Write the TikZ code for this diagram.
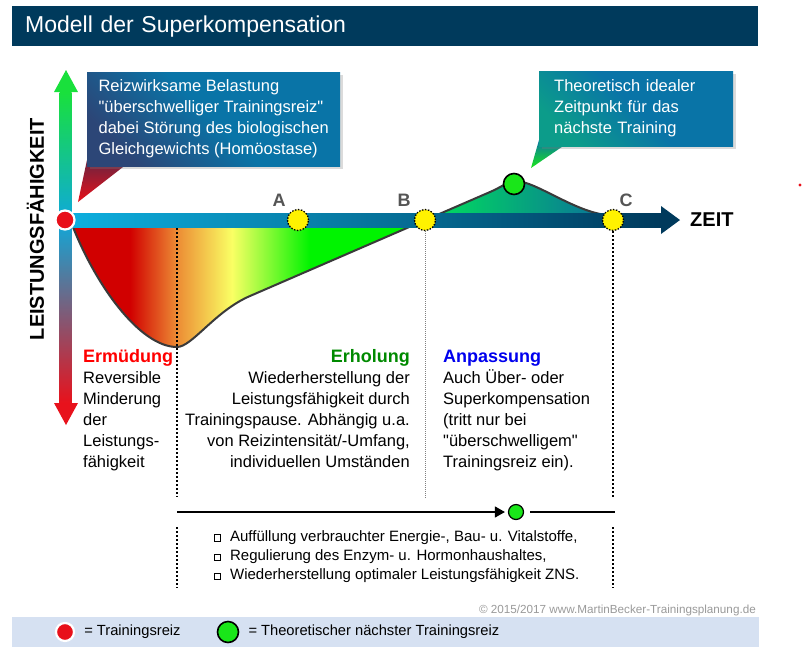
\documentclass[tikz,border=0pt]{standalone}
\usepackage{fontspec}
\setmainfont{Liberation Sans}[Ligatures=TeXOff]
\usetikzlibrary{positioning, arrows.meta, shadows}

\definecolor{titelblau}{HTML}{003A5C}
\definecolor{kastenblau}{HTML}{0974A7}
\definecolor{kastenrot}{HTML}{2C4677}
\definecolor{kastengruen}{HTML}{0C9C8A}
\definecolor{zeigerdunkel}{HTML}{6A2440}
\definecolor{reizrot}{HTML}{E8101A}
\definecolor{punktgruen}{HTML}{19E619}
\definecolor{achsgruen}{HTML}{19E03C}
\definecolor{achscyan}{HTML}{0FA9D9}
\definecolor{achsrot}{HTML}{E8121C}
\definecolor{bandhell}{HTML}{0DB0E0}
\definecolor{rotmitte}{HTML}{D10000}
\definecolor{orangeton}{HTML}{EC8C34}
\definecolor{gelbhell}{HTML}{FAFF64}
\definecolor{gruenhell}{HTML}{00F400}
\definecolor{lobgruen}{HTML}{00E35A}
\definecolor{lobcyan}{HTML}{10BEDD}
\definecolor{lobblau}{HTML}{0B6E9C}
\definecolor{kurvengrau}{HTML}{3A3A3A}
\definecolor{markengrau}{HTML}{555555}
\definecolor{ermrot}{HTML}{FF0000}
\definecolor{erhgruen}{HTML}{008A00}
\definecolor{anpblau}{HTML}{0000EE}
\definecolor{copygrau}{HTML}{9A9A9A}
\definecolor{legblau}{HTML}{D6E1F2}

\newcommand{\kopf}{\fontsize{18}{21}\selectfont\bfseries}
\newcommand{\kaestchen}{\raisebox{1pt}{\setlength{\fboxsep}{0pt}\setlength{\fboxrule}{0.7pt}\fbox{\rule{0pt}{5.5pt}\rule{5.5pt}{0pt}}}}

\begin{document}
\begin{tikzpicture}[x=1pt, y=-1pt, font=\fontsize{16.5}{21}\selectfont,
  >={Triangle[length=10pt, width=11pt]},
  titel/.style={anchor=north west, fill=titelblau, text=white, minimum width=746pt, minimum height=40pt, text width=720pt, inner xsep=13pt, inner ysep=0pt, align=left, font=\fontsize{23}{28}\selectfont},
  kasten/.style={anchor=north west, text=white, inner ysep=0pt, align=left, drop shadow={opacity=0.28, shadow xshift=2.5pt, shadow yshift=-2.5pt}},
  punkt/.style={circle, inner sep=0pt, minimum size=19pt},
  rotpunkt/.style={punkt, fill=reizrot, draw=white, line width=2.2pt},
  gelbpunkt/.style={punkt, minimum size=21pt, fill=yellow, draw=black, line width=1.3pt, dash pattern=on 1.5pt off 1.5pt},
  gruenpunkt/.style={punkt, minimum size=21pt, fill=punktgruen, draw=black, line width=1.6pt},
  marke/.style={inner sep=0pt, text=markengrau, font=\fontsize{18}{20}\selectfont\bfseries},
  achsname/.style={inner sep=0pt, font=\fontsize{20}{24}\selectfont\bfseries},
  spalte/.style={inner sep=0pt, anchor=north west, align=left},
  trenner/.style={line width=2pt, dash pattern=on 2pt off 2pt},
  feintrenner/.style={gray, line width=0.8pt, dash pattern=on 1pt off 1pt},
  kurve/.style={draw=kurvengrau, line width=2pt}]

  \useasboundingbox (0,0) rectangle (803,657);
  \fill[white] (0,0) rectangle (803,657);

  \node[titel] (titel) at (12,6) {Modell der Superkompensation};

  % Kurve mit Farbverlauf
  \begin{scope}
    \clip (71,222) .. controls (95,285) and (140,347) .. (177,347) .. controls (192,347) and (215,311) .. (250,296) -- (490,192) .. controls (503,186.4) and (508,181) .. (516,181) .. controls (535,181) and (575,212) .. (607,215) -- cycle;
    \fill[rotmitte] (60,218) rectangle (130,360);
    \shade[left color=rotmitte, right color=orangeton] (130,218) rectangle (177,360);
    \shade[left color=orangeton, right color=gelbhell] (177,218) rectangle (232,360);
    \shade[left color=gelbhell, right color=gruenhell] (232,218) rectangle (310,360);
    \fill[gruenhell] (310,218) rectangle (430,360);
    \shade[left color=lobgruen, middle color=lobcyan, right color=lobblau] (425,175) rectangle (612,221);
  \end{scope}

  \draw[trenner] (177,228) -- (177,497);
  \draw[trenner] (177,527) -- (177,588);
  \draw[trenner] (613,231) -- (613,497);
  \draw[trenner] (613,527) -- (613,588);
  \draw[feintrenner] (425,231) -- (425,498);

  \draw[kurve] (71,222) .. controls (95,285) and (140,347) .. (177,347) .. controls (192,347) and (215,311) .. (250,296) -- (490,192) .. controls (503,186.4) and (508,181) .. (516,181) .. controls (535,181) and (575,212) .. (607,215);

  % Achsen
  \shade[top color=achsgruen, bottom color=achscyan] (59.5,92) rectangle (71.5,220);
  \shade[top color=achscyan, bottom color=achsrot] (59.5,220) rectangle (71.5,403);
  \fill[achsgruen] (54,92) -- (78,92) -- (66,70) -- cycle;
  \fill[achsrot] (54,403) -- (78,403) -- (66,425) -- cycle;
  \coordinate (zspitze) at (680,220);
  \shade[left color=bandhell, right color=titelblau] (65,213) rectangle (661,227);
  \fill[titelblau] (661,206) -- (zspitze) -- (661,234) -- cycle;
  \node[achsname, right=10pt of zspitze] (zeit) {ZEIT};
  \node[achsname, rotate=90] (leistung) at (35.5,229) {LEISTUNGSFÄHIGKEIT};

  % Hinweiskaesten
  \shade[top color=zeigerdunkel, bottom color=reizrot] (87,160) -- (132,160) -- (78,202) -- cycle;
  \node[kasten, minimum width=253pt, minimum height=94pt, top color=kastenblau, bottom color=kastenrot, middle color=kastenblau, shading angle=-45] (reizbox) at (87,72) {Reizwirksame Belastung\\"überschwelliger Trainingsreiz"\\dabei Störung des biologischen\\Gleichgewichts (Homöostase)};
  \shade[top color=kastenblau, bottom color=punktgruen] (539,140) -- (572,140) -- (531,168) -- cycle;
  \node[kasten, minimum width=194pt, minimum height=75pt, text width=164pt, inner xsep=15pt, top color=kastenblau, bottom color=kastengruen, middle color=kastenblau, shading angle=-45] (idealbox) at (539,71) {Theoretisch idealer\\Zeitpunkt für das\\nächste Training};

  % Punkte
  \node[rotpunkt] (reiz) at (65,220) {};
  \node[gelbpunkt] (pa) at (298,220) {};
  \node[gelbpunkt] (pb) at (425,220) {};
  \node[gelbpunkt] (pc) at (613,220) {};
  \node[gruenpunkt] (gipfel) at (514,184) {};
  \node[marke] (la) at (279,200) {A};
  \node[marke] (lb) at (404,200) {B};
  \node[marke] (lc) at (626,200) {C};

  % Phasen
  \node[spalte] (ermuedung) at (83,349.5) {{\kopf\color{ermrot}Ermüdung}\\Reversible\\Minderung\\der\\Leistungs-\\fähigkeit};
  \node[spalte, anchor=north east, align=right] (erholung) at (410,349.5) {{\kopf\color{erhgruen}Erholung}\\Wiederherstellung der\\Leistungsfähigkeit durch\\Trainingspause. Abhängig u.a.\\von Reizintensität/-Umfang,\\individuellen Umständen};
  \node[spalte] (anpassung) at (443,349.5) {{\kopf\color{anpblau}Anpassung}\\Auch Über- oder\\Superkompensation\\(tritt nur bei\\"überschwelligem"\\Trainingsreiz ein).};

  % Zeitpfeil und Liste
  \coordinate (pfstart) at (177,512);
  \coordinate (pfende) at (615,512);
  \node[gruenpunkt, minimum size=15pt, line width=1.2pt] (naechst) at (516,512) {};
  \draw[->, line width=1.3pt, shorten >=3pt] (pfstart) -- (naechst);
  \draw[line width=1.3pt, shorten <=6pt] (naechst) -- (pfende);
  \node[spalte, font=\fontsize{15}{19.2}\selectfont] (liste) at (214,530.5) {\kaestchen\hspace{9pt}Auffüllung verbrauchter Energie-, Bau- u. Vitalstoffe,\\\kaestchen\hspace{9pt}Regulierung des Enzym- u. Hormonhaushaltes,\\\kaestchen\hspace{9pt}Wiederherstellung optimaler Leistungsfähigkeit ZNS.};

  \node[inner sep=0pt, anchor=east, text=copygrau, font=\fontsize{11.7}{14}\selectfont] (copy) at (756,610) {© 2015/2017 www.MartinBecker-Trainingsplanung.de};

  % Legende
  \node[anchor=north west, fill=legblau, minimum width=747pt, minimum height=30pt, inner sep=0pt] (legende) at (12,617) {};
  \node[rotpunkt, minimum size=18pt] (legrot) at (65,632) {};
  \node[inner sep=0pt, right=9pt of legrot, font=\fontsize{14.7}{18}\selectfont] (legtext1) {= Trainingsreiz};
  \node[gruenpunkt] (leggruen) at (228,632) {};
  \node[inner sep=0pt, right=9pt of leggruen, font=\fontsize{14.7}{18}\selectfont] (legtext2) {= Theoretischer nächster Trainingsreiz};

  \fill[reizrot] (800,185) circle (1.6);
\end{tikzpicture}
\end{document}
